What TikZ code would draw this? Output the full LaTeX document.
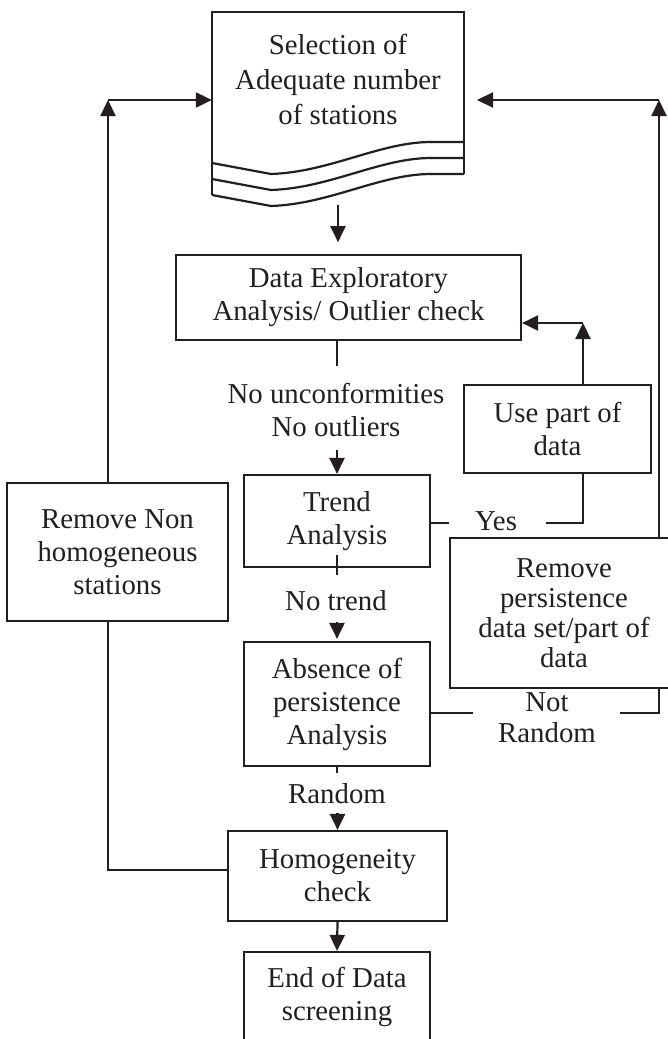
\documentclass[tikz,border=0pt]{standalone}
\usepackage{fontspec}
\setmainfont{Liberation Serif}
\usetikzlibrary{arrows.meta,calc}
\definecolor{ink}{HTML}{231F20}
\begin{document}
\begin{tikzpicture}[x=1pt,y=-1pt,
  line/.style={draw=ink, line width=2.2pt},
  arr/.style={line, -{Triangle[length=16pt,width=15pt]}},
  box/.style={draw=ink, line width=2.2pt, fill=white, align=center, inner sep=0pt, text=ink, font=\fontsize{28.8}{33}\selectfont},
  lbl/.style={align=center, inner sep=0pt, text=ink, font=\fontsize{28.8}{33}\selectfont}]
\useasboundingbox (0,0) rectangle (668,1039);
\fill[white] (0,0) rectangle (668,1039);

% document shape
\node[minimum width=252, minimum height=193, inner sep=0pt] (sel) at (338,108.5) {};
\draw[line, line join=miter] (212,195) -- (212,12) -- (464,12) -- (464,174);
\foreach \k in {0,16,32}{
  \draw[line] (212,163+\k) -- (271,174+\k) .. controls (330,172+\k) and (380,142+\k) .. (431,142+\k) -- (464,142+\k);
}
\node[lbl, font=\fontsize{28.8}{35}\selectfont] (selt) at (338,79) {Selection of\\Adequate number\\of stations};

% boxes
\node[box, minimum width=345, minimum height=85] (dea) at (348.5,297.5) {Data Exploratory\\Analysis/ Outlier check};
\node[box, minimum width=186, minimum height=92] (trend) at (337,521) {Trend\\Analysis};
\node[box, minimum width=187, minimum height=88] (use) at (557.5,429) {Use part of\\data};
\node[box, minimum width=221, minimum height=138] (rnh) at (117.5,552) {Remove Non\\homogeneous\\stations};
\node[box, minimum width=228, minimum height=150, font=\fontsize{28.8}{30}\selectfont] (rp) at (564,613) {Remove\\persistence\\data set/part of\\data};
\node[box, minimum width=186, minimum height=124] (abs) at (337,704) {Absence of\\persistence\\Analysis};
\node[box, minimum width=219, minimum height=90] (hom) at (337.5,876) {Homogeneity\\check};
\node[box, minimum width=186, minimum height=90] (end) at (337,997) {End of Data\\screening};

% labels
\node[lbl] (l1) at (336,410) {No unconformities\\No outliers};
\node[lbl] (l2) at (336,601) {No trend};
\node[lbl] (l3) at (337,794) {Random};
\node[lbl] (l4) at (496,521) {Yes};
\node[lbl, font=\fontsize{28.8}{31}\selectfont] (l5) at (547,718) {Not\\Random};

% main flow
\draw[arr] (sel.south) -- ++(0,37);
\draw[line] (dea.south -| trend.north) -- ++(0,25);
\draw[arr] ($(trend.north)+(0,-24)$) -- (trend.north);
\draw[line] ($(trend.south)+(0,-13)$) -- ++(0,20);
\draw[arr] ($(abs.north)+(0,-19)$) -- ($(abs.north)+(0,-2)$);
\draw[line] (abs.south) -- ++(0,6);
\draw[arr] ($(hom.north)+(0,-17)$) -- (hom.north);
\draw[arr] (hom.south) -- (end.north);

% Yes branch
\coordinate (yesR) at (546,523);
\coordinate (u1) at (583,523);
\coordinate (u2) at (583,323);
\draw[line] (yesR -| trend.east) -- ++(18,0);
\draw[line] (yesR) -- (u1) -- (u1 |- use.south);
\draw[arr] (u1 |- use.north) -- (u2);
\draw[arr] (u2) -- (u2 -| dea.east);

% Not random branch
\coordinate (n1) at (473,713);
\coordinate (n2) at (620,713);
\coordinate (rv) at (659,713);
\coordinate (rt) at (659,100);
\coordinate (st) at (477,100);
\draw[line] (n1 -| abs.east) -- (n1);
\draw[line] (n2) -- (rv) -- (rv |- rp.south);
\draw[arr] (rv |- rp.north) -- (rt);
\draw[arr] (rt) -- (st);

% Non homogeneous branch
\coordinate (lb) at (108,870);
\coordinate (lt) at (108,100);
\draw[line] (lb -| hom.west) -- (lb) -- (lb |- rnh.south);
\draw[arr] (lb |- rnh.north) -- (lt);
\draw[arr] (lt) -- (lt -| sel.west);
\end{tikzpicture}
\end{document}
